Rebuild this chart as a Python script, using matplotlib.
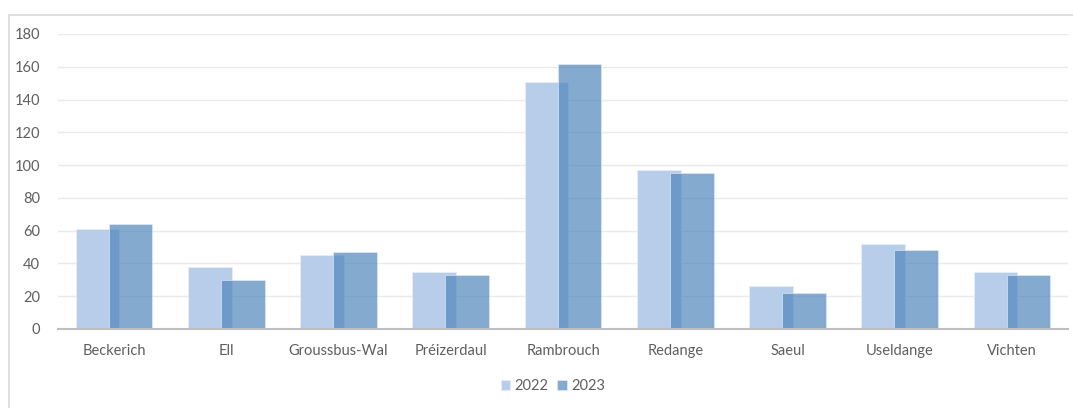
import matplotlib
matplotlib.use("Agg")
import matplotlib.pyplot as plt
import numpy as np
from matplotlib.patches import Rectangle

categories = ["Beckerich", "Ell", "Groussbus-Wal", "Préizerdaul", "Rambrouch",
              "Redange", "Saeul", "Useldange", "Vichten"]
values_2022 = [61, 38, 45, 35, 151, 97, 26, 52, 35]
values_2023 = [64, 30, 47, 33, 162, 95, 22, 48, 33]
series_labels = ["2022", "2023"]
y_ticks = [0, 20, 40, 60, 80, 100, 120, 140, 160, 180]

plt.rcParams['font.family'] = ['Lato', 'DejaVu Sans']

fig = plt.figure(figsize=(10.73, 4.08), dpi=100)
fig.patch.set_facecolor("white")
# outer chart frame
fig.patches.append(Rectangle((9/1073, -0.1), 1.2, 1.1 - 15/408, transform=fig.transFigure,
                             fill=False, edgecolor="#D9D9D9", linewidth=1.2, zorder=0))

ax = fig.add_axes([58/1073, 1 - 329/408, (1068 - 58)/1073, (329 - 34)/408])
x = np.arange(len(categories))
w = 0.39
off = 0.147
ax.bar(x - off, values_2022, width=w, color="#B7CDEA", edgecolor="#E6EEF8",
       linewidth=0.6, label=series_labels[0], zorder=2)
ax.bar(x + off, values_2023, width=w, color="#4A81BA", alpha=0.67, edgecolor="#E6EEF8",
       linewidth=0.6, label=series_labels[1], zorder=3)

ax.set_xlim(-0.5, len(categories) - 0.5)
ax.set_ylim(0, 180)
ax.set_yticks(y_ticks)
ax.set_xticks(x)
ax.set_xticklabels(categories)
ax.yaxis.grid(True, color="#EAEAEA", linewidth=1.0, zorder=0)
ax.set_axisbelow(True)
for s in ["top", "right", "left"]:
    ax.spines[s].set_visible(False)
ax.spines["bottom"].set_color("#BFBFBF")
ax.spines["bottom"].set_linewidth(1.5)
ax.spines["bottom"].set_zorder(4)
ax.tick_params(axis="both", length=0, labelsize=10.5, labelcolor="#5F5F5F")
ax.tick_params(axis="y", pad=13)
ax.tick_params(axis="x", pad=11)

leg = fig.legend(loc="center", bbox_to_anchor=(553/1073, 1 - 386/408), ncol=2, frameon=False,
                 fontsize=10.5, handlelength=0.65, handleheight=0.65, handletextpad=0.3,
                 columnspacing=0.6)
for t in leg.get_texts():
    t.set_color("#5F5F5F")

fig.savefig("out.png", dpi=100)
